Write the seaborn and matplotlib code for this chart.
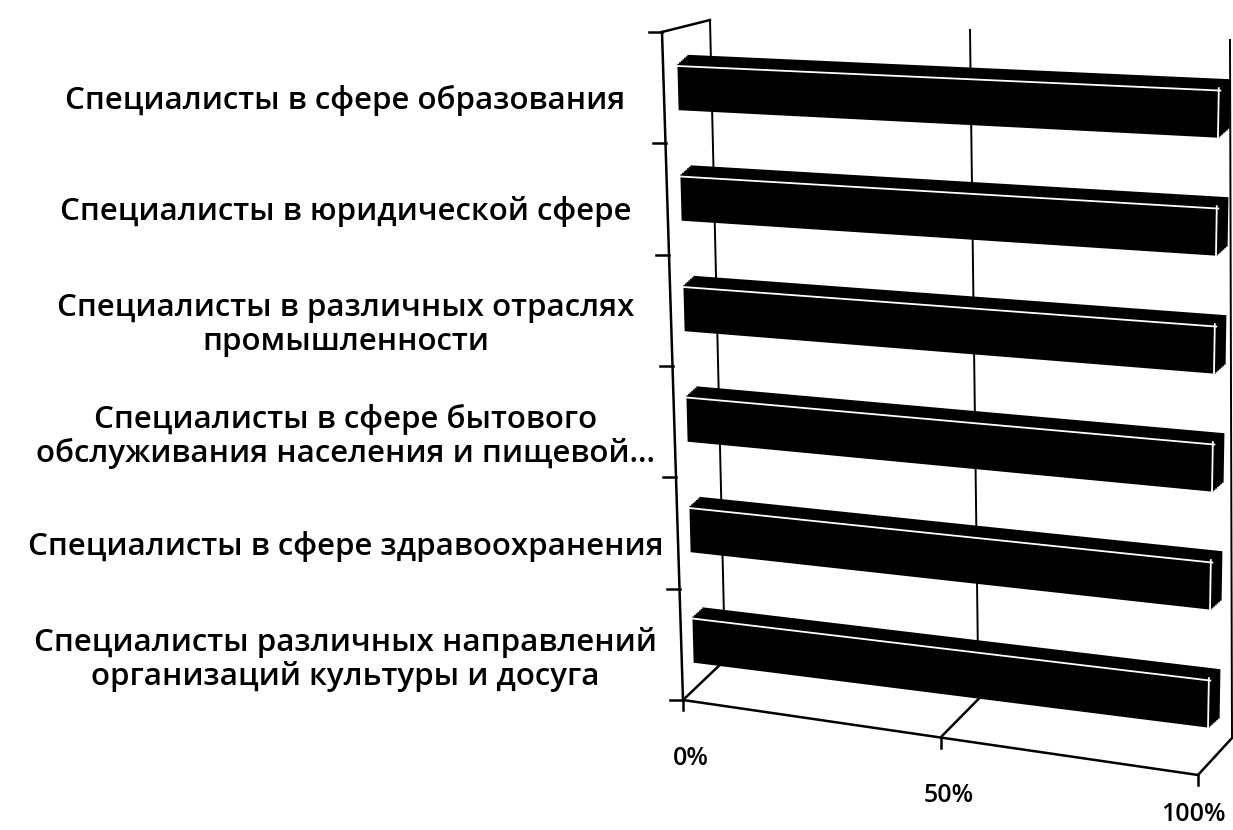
import numpy as np
import matplotlib
matplotlib.use("Agg")
import matplotlib.pyplot as plt
import matplotlib.transforms as mtransforms
from matplotlib.patches import Rectangle
import seaborn as sns

categories = [
    "Специалисты в сфере образования",
    "Специалисты в юридической сфере",
    "Специалисты в различных отраслях\nпромышленности",
    "Специалисты в сфере бытового\nобслуживания населения и пищевой...",
    "Специалисты в сфере здравоохранения",
    "Специалисты различных направлений\nорганизаций культуры и досуга",
]
shares = [100, 100, 100, 100, 100, 100]  # %
x_ticks = [0, 50, 100]
x_tick_labels = ["0%", "50%", "100%"]

W, H = 1233, 830
plt.rcParams['font.family'] = ['Open Sans', 'DejaVu Sans']

# pseudo-3d planes, pixel corners (top-left origin): TL, TR, BL, BR
# u = 0..100 %, v = -0.5..5.5 (category axis)
BAR_PLANE = ((676.5, 31.75), (1221, 54), (694.5, 694.75), (1209, 762))
FRAME_PLANE = ((662, 32), (1215, 50), (683, 700), (1198, 775))
BACK_PLANE = ((710, 20), (1230, 40), (725, 660), (1232, 738))
DEPTH = (10, -9)  # bar extrusion in px


def plane_xy(u, v, plane):
    tl, tr, bl, br = [np.array(c, dtype=float) for c in plane]
    u = np.atleast_1d(np.asarray(u, dtype=float))[:, None] / 100.0
    v = (np.atleast_1d(np.asarray(v, dtype=float))[:, None] + 0.5) / 6.0
    top = tl + u * (tr - tl)
    bottom = bl + u * (br - bl)
    return top * (1 - v) + bottom * v


class PlaneTransform(mtransforms.Transform):
    input_dims = 2
    output_dims = 2

    def __init__(self, plane, shift=(0, 0)):
        super().__init__()
        self.plane = plane
        self.shift = np.array(shift, dtype=float)

    def transform_non_affine(self, values):
        values = np.asarray(values, dtype=float).reshape(-1, 2)
        return plane_xy(values[:, 0], values[:, 1], self.plane) + self.shift


fig = plt.figure(figsize=(W / 100, H / 100), dpi=100)
pix = mtransforms.Affine2D().scale(1 / W, -1 / H).translate(0, 1) + fig.transFigure

ax = fig.add_axes([662 / W, 1 - 710 / H, (W - 662) / W, (710 - 41) / H])
sns.barplot(x=shares, y=categories, orient="h", color="black", saturation=1,
            width=0.42, linewidth=0, ax=ax)

bar_tr = PlaneTransform(BAR_PLANE) + pix
for p in list(ax.patches):
    x0, y0 = p.get_xy()
    w, h = p.get_width(), p.get_height()
    p.set_transform(bar_tr)
    p.set_clip_on(False)
    p.set_zorder(3)
    # extrusion (top face and end cap)
    for k in range(1, 7):
        shift = (DEPTH[0] * k / 6, DEPTH[1] * k / 6)
        ax.add_patch(Rectangle((x0, y0), w, h, color="black", lw=0, zorder=2, clip_on=False,
                               transform=PlaneTransform(BAR_PLANE, shift) + pix))
    # highlight edges of the front face
    ax.plot([x0, x0 + w], [y0 + 0.02, y0 + 0.02], color="white", lw=1.3,
            transform=bar_tr, zorder=4, clip_on=False)
    ax.plot([x0 + w - 0.3, x0 + w - 0.3], [y0, y0 + h], color="white", lw=1.3,
            transform=bar_tr, zorder=4, clip_on=False)

deco = dict(color="black", lw=1.8, transform=pix, clip_on=False, zorder=1)


def seg(p, q, **kw):
    ax.plot([p[0], q[0]], [p[1], q[1]], **{**deco, **kw})


v_top, v_floor = -0.5, len(categories) - 0.5

# left wall
seg(plane_xy(0, v_top, FRAME_PLANE)[0], plane_xy(0, v_floor, FRAME_PLANE)[0])
seg(plane_xy(0, v_top, FRAME_PLANE)[0], plane_xy(0, v_top, BACK_PLANE)[0])
for b in np.arange(len(categories) + 1) - 0.5:
    pt = plane_xy(0, b, FRAME_PLANE)[0]
    seg(pt, pt + np.array([-13, 0]))

# back wall grid and floor
for t in x_ticks:
    seg(plane_xy(t, v_top, BACK_PLANE)[0], plane_xy(t, v_floor, BACK_PLANE)[0], lw=1.4)
    seg(plane_xy(t, v_floor, FRAME_PLANE)[0], plane_xy(t, v_floor, BACK_PLANE)[0])
seg(plane_xy(0, v_floor, FRAME_PLANE)[0], plane_xy(100, v_floor, FRAME_PLANE)[0])

for t, lab in zip(x_ticks, x_tick_labels):
    pt = plane_xy(t, v_floor, FRAME_PLANE)[0]
    seg(pt, pt + np.array([0, 10]))
    ax.text(min(pt[0] + 8, W - 40), min(pt[1] + 58, 814), lab, transform=pix,
            ha="center", va="center", fontsize=18, fontweight="semibold", color="black")

ax.set_xlim(0, 100)
ax.set_ylim(v_floor, v_top)
ax.set_xlabel("")
ax.set_ylabel("")
ax.xaxis.set_visible(False)
for s in ax.spines.values():
    s.set_visible(False)
ax.patch.set_visible(False)
ax.tick_params(axis="y", length=0, pad=228, labelsize=22.5)
for lab in ax.get_yticklabels():
    lab.set_ha("center")
    lab.set_multialignment("center")
    lab.set_linespacing(1.15)
    lab.set_fontweight("semibold")

fig.savefig("out.png", dpi=100, facecolor="white")
